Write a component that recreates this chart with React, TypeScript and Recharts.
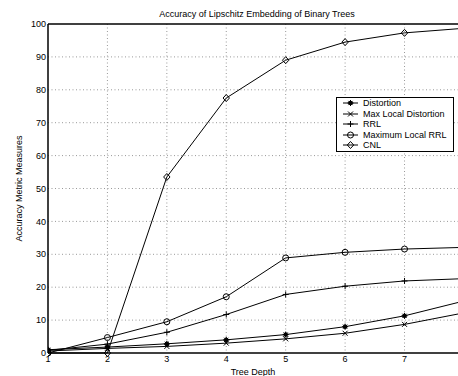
import React from 'react';
import { LineChart, Line, XAxis, YAxis, CartesianGrid, ReferenceLine } from 'recharts';

const depths = [1, 2, 3, 4, 5, 6, 7, 8];
const distortion = [1.0, 1.8, 2.8, 4.0, 5.6, 8.0, 11.3, 15.8];
const maxLocalDistortion = [0.6, 1.4, 2.0, 3.0, 4.3, 6.0, 8.7, 12.2];
const rrl = [0.8, 2.7, 6.3, 11.7, 17.8, 20.3, 21.9, 22.6];
const maxLocalRRL = [0, 4.7, 9.5, 17.1, 28.9, 30.6, 31.6, 32.1];
const cnl = [0, 0, 53.5, 77.5, 89.0, 94.5, 97.3, 98.7];

const xTicks = [1, 2, 3, 4, 5, 6, 7];
const yTicks = [0, 10, 20, 30, 40, 50, 60, 70, 80, 90, 100];

const data = depths.map((d, i) => ({
  depth: d,
  distortion: distortion[i],
  maxLocalDistortion: maxLocalDistortion[i],
  rrl: rrl[i],
  maxLocalRRL: maxLocalRRL[i],
  cnl: cnl[i],
}));

type Shape = 'star' | 'x' | 'plus' | 'circle' | 'diamond';

const markerEl = (shape: Shape, cx: number, cy: number, key?: any) => {
  const s = 3;
  const common = { stroke: '#000', strokeWidth: 1, fill: 'none' };
  switch (shape) {
    case 'star':
      return (
        <g key={key}>
          <circle cx={cx} cy={cy} r={1.8} fill="#000" stroke="#000" strokeWidth={1} />
          <path d={`M${cx - s},${cy}H${cx + s}M${cx},${cy - s}V${cy + s}M${cx - 2.1},${cy - 2.1}L${cx + 2.1},${cy + 2.1}M${cx - 2.1},${cy + 2.1}L${cx + 2.1},${cy - 2.1}`} {...common} />
        </g>
      );
    case 'x':
      return <path key={key} d={`M${cx - 2.5},${cy - 2.5}L${cx + 2.5},${cy + 2.5}M${cx - 2.5},${cy + 2.5}L${cx + 2.5},${cy - 2.5}`} {...common} />;
    case 'plus':
      return <path key={key} d={`M${cx - 3},${cy}H${cx + 3}M${cx},${cy - 3}V${cy + 3}`} {...common} />;
    case 'circle':
      return <circle key={key} cx={cx} cy={cy} r={3} {...common} />;
    case 'diamond':
      return <path key={key} d={`M${cx},${cy - 3.5}L${cx + 3.2},${cy}L${cx},${cy + 3.5}L${cx - 3.2},${cy}Z`} {...common} />;
  }
};

const dotFor = (shape: Shape) => (props: any) => {
  const { cx, cy, key } = props;
  if (cx == null || cy == null) return <g key={key} />;
  return markerEl(shape, cx, cy, key);
};

const series: { key: string; name: string; shape: Shape }[] = [
  { key: 'distortion', name: 'Distortion', shape: 'star' },
  { key: 'maxLocalDistortion', name: 'Max Local Distortion', shape: 'x' },
  { key: 'rrl', name: 'RRL', shape: 'plus' },
  { key: 'maxLocalRRL', name: 'Maximum Local RRL', shape: 'circle' },
  { key: 'cnl', name: 'CNL', shape: 'diamond' },
];

const font = 'Liberation Sans, Arial, Helvetica, sans-serif';

const LegendBox = () => (
  <div
    style={{
      position: 'absolute',
      left: 336,
      top: 97,
      border: '1.5px solid #000',
      background: '#fff',
      width: 118,
      boxSizing: 'border-box',
      padding: '0 0 0 5px',
      fontFamily: font,
      fontSize: 9,
      color: '#000',
    }}
  >
    {series.map((s) => (
      <div key={s.key} style={{ display: 'flex', alignItems: 'center', height: 10.5, lineHeight: '10.5px' }}>
        <svg width={21} height={10} style={{ flex: 'none' }}>
          <line x1={1} y1={5} x2={16} y2={5} stroke="#000" strokeWidth={1} />
          {markerEl(s.shape, 8.5, 5)}
        </svg>
        <span style={{ whiteSpace: 'nowrap' }}>{s.name}</span>
      </div>
    ))}
  </div>
);

export default function App() {
  return (
    <div style={{ position: 'absolute', left: 0, top: 0, width: 458, height: 376, overflow: 'hidden', background: '#fff' }}>
      <div
        style={{
          position: 'absolute',
          left: 0,
          width: 514,
          top: 9,
          textAlign: 'center',
          fontFamily: font,
          fontSize: 9,
          color: '#000',
          lineHeight: '11px',
        }}
      >
        Accuracy of Lipschitz Embedding of Binary Trees
      </div>
      <LineChart
        width={458}
        height={376}
        data={data}
        margin={{ top: 24, right: 0, bottom: 0, left: 0 }}
        style={{ position: 'absolute', left: 0, top: 0 }}
      >
        <CartesianGrid stroke="#999" strokeDasharray="1 2.5" strokeWidth={1} verticalValues={[2, 3, 4, 5, 6, 7]} horizontalValues={[10, 20, 30, 40, 50, 60, 70, 80, 90]} />
        <XAxis
          dataKey="depth"
          type="number"
          domain={[1, 7.9]}
          allowDataOverflow
          ticks={xTicks}
          height={23}
          stroke="#000"
          strokeWidth={1.5}
          tickLine={false}
          tickSize={0}
          tickMargin={3}
          tick={{ fill: '#000', fontSize: 9, fontFamily: font }}
          label={{ value: 'Tree Depth', position: 'insideBottom', offset: 1, fill: '#000', fontSize: 9, fontFamily: font }}
        />
        <YAxis
          type="number"
          domain={[0, 100]}
          ticks={yTicks}
          width={48}
          stroke="#000"
          strokeWidth={1.5}
          tickLine={false}
          tickSize={0}
          tickMargin={2}
          interval={0}
          tick={{ fill: '#000', fontSize: 9, fontFamily: font }}
          label={{ value: 'Accuracy Metric Measures', angle: -90, position: 'insideLeft', offset: 19, fill: '#000', fontSize: 9, fontFamily: font, style: { textAnchor: 'middle' } }}
        />
        <ReferenceLine y={100} stroke="#000" strokeWidth={1.5} ifOverflow="extendDomain" />
        {series.map((s) => (
          <Line
            key={s.key}
            type="linear"
            dataKey={s.key}
            name={s.name}
            stroke="#000"
            strokeWidth={1}
            dot={dotFor(s.shape)}
            activeDot={false}
            isAnimationActive={false}
          />
        ))}
      </LineChart>
      <LegendBox />
    </div>
  );
}
